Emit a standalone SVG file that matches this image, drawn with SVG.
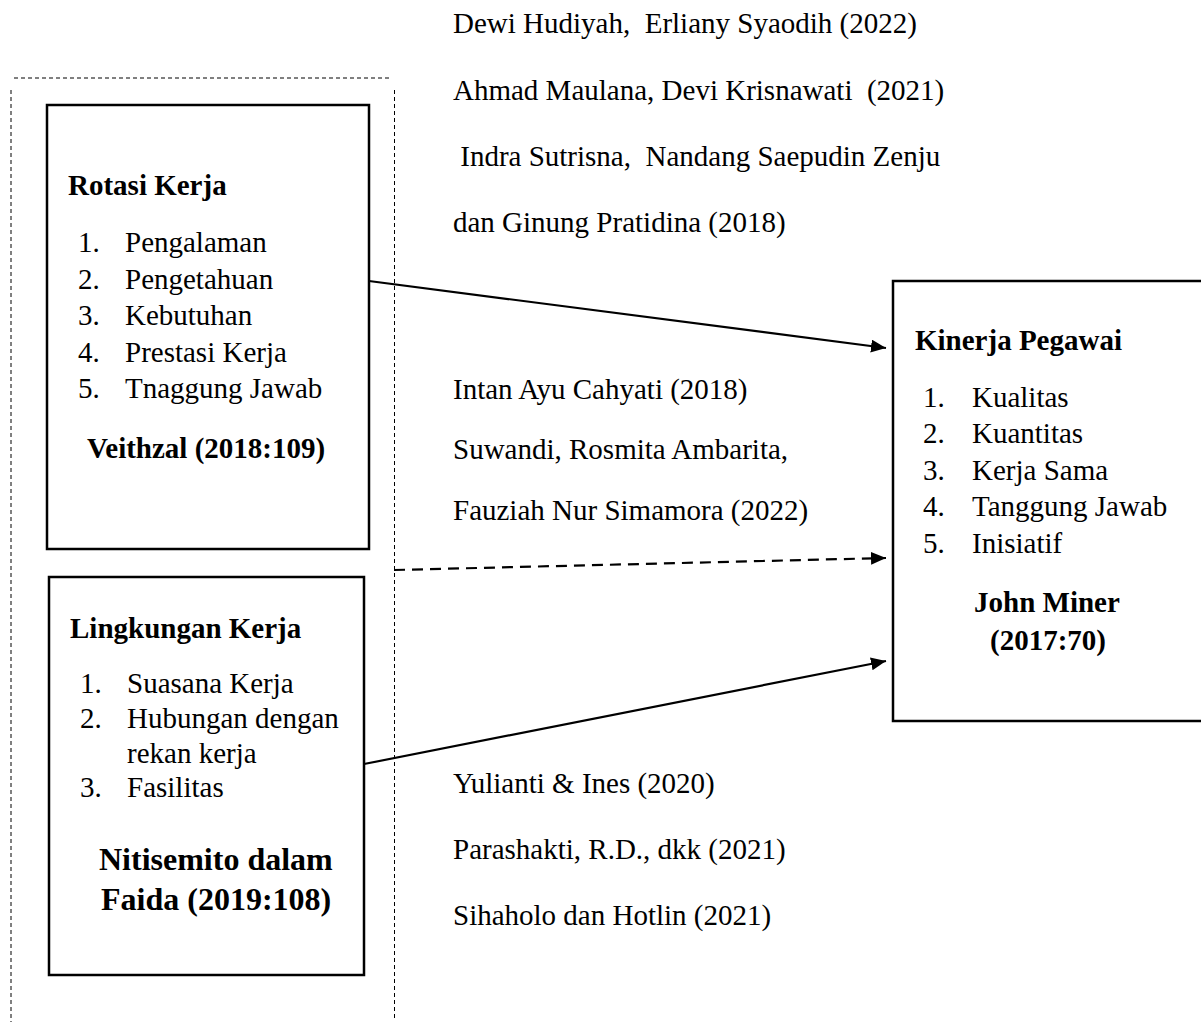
<svg xmlns="http://www.w3.org/2000/svg" width="1201" height="1026" viewBox="0 0 1201 1026">
<style>
text{font-family:"Liberation Serif","Times New Roman",serif;font-size:29px;fill:#000;white-space:pre}
.b{font-weight:bold}
.big{font-size:32px}
.box{fill:none;stroke:#000;stroke-width:2.5}
.frame{fill:none;stroke:#000;stroke-width:1;stroke-dasharray:4 3}
.conn{fill:none;stroke:#000;stroke-width:2.2}
.dash{stroke-dasharray:11 7}
</style>
<defs>
<marker id="ah" markerUnits="userSpaceOnUse" markerWidth="16" markerHeight="14" refX="15" refY="6.5" orient="auto">
<path d="M0,0 L15,6.5 L0,13 z" fill="#000"/>
</marker>
</defs>
<rect width="1201" height="1026" fill="#fff"/>
<g id="frame">
<line class="frame" x1="14" y1="78" x2="391" y2="78"/>
<line class="frame" x1="11" y1="90" x2="11" y2="1022"/>
<line class="frame" x1="394.5" y1="90" x2="394.5" y2="1020"/>
</g>
<g id="rotasi">
<rect class="box" x="47" y="105" width="322" height="444"/>
<text class="b" x="68" y="195">Rotasi Kerja</text>
<text x="78" y="252">1.</text><text x="125" y="252">Pengalaman</text>
<text x="78" y="288.5">2.</text><text x="125" y="288.5">Pengetahuan</text>
<text x="78" y="325">3.</text><text x="125" y="325">Kebutuhan</text>
<text x="78" y="361.5">4.</text><text x="125" y="361.5">Prestasi Kerja</text>
<text x="78" y="398">5.</text><text x="125" y="398">Tnaggung Jawab</text>
<text class="b" x="87" y="458">Veithzal (2018:109)</text>
</g>
<g id="lingkungan">
<rect class="box" x="49" y="577" width="315" height="398"/>
<text class="b" x="70" y="638">Lingkungan Kerja</text>
<text x="80" y="692.5">1.</text><text x="127" y="692.5">Suasana Kerja</text>
<text x="80" y="728">2.</text><text x="127" y="728">Hubungan dengan</text>
<text x="127" y="763">rekan kerja</text>
<text x="80" y="797">3.</text><text x="127" y="797">Fasilitas</text>
<text class="b big" x="99" y="870">Nitisemito dalam</text>
<text class="b big" x="101" y="910">Faida (2019:108)</text>
</g>
<g id="kinerja">
<rect class="box" x="893" y="281" width="320" height="440"/>
<text class="b" x="915" y="350">Kinerja Pegawai</text>
<text x="923" y="406.5">1.</text><text x="972" y="406.5">Kualitas</text>
<text x="923" y="443">2.</text><text x="972" y="443">Kuantitas</text>
<text x="923" y="479.5">3.</text><text x="972" y="479.5">Kerja Sama</text>
<text x="923" y="516">4.</text><text x="972" y="516">Tanggung Jawab</text>
<text x="923" y="552.5">5.</text><text x="972" y="552.5">Inisiatif</text>
<text class="b" x="974" y="612">John Miner</text>
<text class="b" x="990" y="650">(2017:70)</text>
</g>
<g id="refs-top">
<text x="453" y="33">Dewi Hudiyah,  Erliany Syaodih (2022)</text>
<text x="453" y="99.5">Ahmad Maulana, Devi Krisnawati  (2021)</text>
<text x="453" y="165.5"> Indra Sutrisna,  Nandang Saepudin Zenju</text>
<text x="453" y="232">dan Ginung Pratidina (2018)</text>
</g>
<g id="refs-mid">
<text x="453" y="399">Intan Ayu Cahyati (2018)</text>
<text x="453" y="459">Suwandi, Rosmita Ambarita,</text>
<text x="453" y="520">Fauziah Nur Simamora (2022)</text>
</g>
<g id="refs-bottom">
<text x="453" y="793">Yulianti &amp; Ines (2020)</text>
<text x="453" y="859">Parashakti, R.D., dkk (2021)</text>
<text x="453" y="925">Sihaholo dan Hotlin (2021)</text>
</g>
<g id="connectors">
<line class="conn" x1="369" y1="281" x2="886" y2="348" marker-end="url(#ah)"/>
<line class="conn dash" x1="394" y1="570" x2="886" y2="558" marker-end="url(#ah)"/>
<line class="conn" x1="364" y1="764" x2="886" y2="661" marker-end="url(#ah)"/>
</g>
</svg>
